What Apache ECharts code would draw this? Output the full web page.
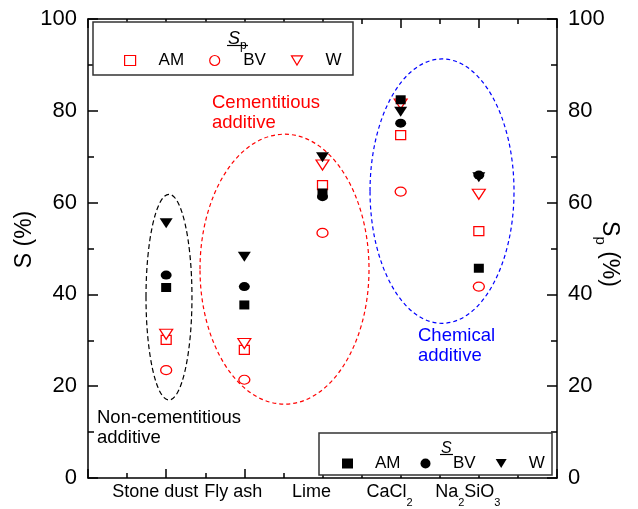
<!DOCTYPE html>
<html><head><meta charset="utf-8">
<script src="https://cdn.jsdelivr.net/npm/echarts@6/dist/echarts.min.js"></script>
<style>html,body{margin:0;padding:0;background:#fff}#c{width:638px;height:509px}</style>
</head><body><div id="c"></div>
<script>
// ---- data ----
const categories = ['{n|Stone dust}', '{n|Fly ash}', '{n|Lime}', '{n|CaCl}{s|2}', '{n|Na}{s|2}{n|SiO}{s|3}'];
const categoryPos = [1, 2, 3, 4, 5];
const yTickValues = [0, 20, 40, 60, 80, 100];
const sAM  = [41.5, 37.7, 62.1, 82.4, 45.7];
const sBV  = [44.2, 41.7, 61.3, 77.3, 66.0];
const sW   = [55.5, 48.2, 69.9, 79.8, 65.5];
const spAM = [30.1, 27.9, 63.8, 74.7, 53.8];
const spBV = [23.5, 21.4, 53.4, 62.4, 41.7];
const spW  = [31.3, 29.3, 68.2, 81.5, 61.8];
// annotation ellipses in data units: [cx, cy, rx, ry]
const ellipseNonCem = [1.036, 39.4, 0.294, 22.4];
const ellipseCem    = [2.514, 45.5, 1.081, 29.4];
const ellipseChem   = [4.529, 62.5, 0.921, 28.8];

const FONT = 'Liberation Sans, Arial, sans-serif';
const pairs = arr => arr.map((v, i) => [categoryPos[i], v]);
const TRI_DOWN = 'path://M0,0L12,0L6,10Z';

const chart = echarts.init(document.getElementById('c'), null, {renderer: 'canvas'});

const axisLineStyle = {color: '#000', width: 1.5};
function xAxisDef(pos, showLabel) {
  return {
    type: 'value', position: pos, min: 0, max: 6, interval: 1,
    axisLine: {show: true, onZero: false, lineStyle: axisLineStyle},
    axisTick: {show: true, inside: true, length: 9, lineStyle: axisLineStyle},
    minorTick: {show: true, splitNumber: 2, length: 5, lineStyle: axisLineStyle},
    splitLine: {show: false},
    axisLabel: {
      show: showLabel, color: '#000', fontFamily: FONT, fontSize: 18, margin: 5,
      padding: [0, 22, 0, 0],
      formatter: v => (v >= 1 && v <= 5) ? categories[v - 1] : '',
      rich: {
        n: {fontSize: 18, fontFamily: FONT, color: '#000', verticalAlign: 'top', lineHeight: 18},
        s: {fontSize: 11, fontFamily: FONT, color: '#000', verticalAlign: 'bottom', lineHeight: 25}
      }
    }
  };
}
function yAxisDef(pos, name, rot, gap, pad) {
  return {
    type: 'value', position: pos, min: 0, max: 100, interval: 20,
    axisLine: {show: true, onZero: false, lineStyle: axisLineStyle},
    axisTick: {show: true, inside: true, length: 10, lineStyle: axisLineStyle},
    minorTick: {show: true, splitNumber: 2, length: 6, lineStyle: axisLineStyle},
    splitLine: {show: false},
    axisLabel: {color: '#000', fontFamily: FONT, fontSize: 22, margin: 11,
      formatter: v => yTickValues.indexOf(v) >= 0 ? String(v) : ''},
    name: name, nameLocation: 'middle', nameRotate: rot, nameGap: gap, nameMoveOverlap: false,
    nameTextStyle: {color: '#000', fontFamily: FONT, fontSize: 23, padding: pad,
      rich: {
        m: {fontSize: 23, fontFamily: FONT, color: '#000', verticalAlign: 'top', lineHeight: 23},
        sub: {fontSize: 15, fontFamily: FONT, color: '#000', verticalAlign: 'bottom', lineHeight: 28}
      }}
  };
}

const red = '#ff0000';
function sc(name, data, symbol, size, filled, color) {
  return {
    name: name, type: 'scatter', data: pairs(data), symbol: symbol, symbolSize: size,
    itemStyle: filled ? {color: color, opacity: 1}
                      : {color: '#fff', borderColor: color, borderWidth: 1.2, opacity: 1},
    emphasis: {disabled: true}, z: 3
  };
}
function legItem(name, icon, filled, color) {
  return {name: name, icon: icon,
    itemStyle: filled ? {color: color, borderWidth: 0}
                      : {color: '#fff', borderColor: color, borderWidth: 1.2}};
}

const legendText = {fontSize: 17, fontFamily: FONT, color: '#000'};
chart.setOption({
  animation: false,
  backgroundColor: '#fff',
  grid: {left: 88, right: 81, top: 19, bottom: 31, containLabel: false, outerBoundsMode: 'none'},
  xAxis: [xAxisDef('bottom', true), xAxisDef('top', false)],
  yAxis: [yAxisDef('left', 'S (%)', 90, 52, [0, 0, 0, 18]),
          yAxisDef('right', '{m|S}{sub|p}{m| (%)}', -90, 36, [0, 0, 0, 11])],
  legend: [
    {data: [legItem('Sp AM', 'rect', false, red), legItem('Sp BV', 'circle', false, red), legItem('Sp W', TRI_DOWN, false, red)],
     left: 124, top: 52, padding: 0, itemWidth: 11, itemHeight: 10,
     itemGap: 25, selectedMode: false, z: 20, formatter: n => n.split(' ')[1],
     textStyle: Object.assign({padding: [0, 0, 0, 18]}, legendText)},
    {data: [legItem('S AM', 'rect', true, '#000'), legItem('S BV', 'circle', true, '#000'), legItem('S W', TRI_DOWN, true, '#000')],
     left: 342, top: 455, padding: 0, itemWidth: 11, itemHeight: 10,
     itemGap: 20, selectedMode: false, z: 20, formatter: n => n.split(' ')[1],
     textStyle: Object.assign({padding: [0, 0, 0, 17]}, legendText)}
  ],
  series: [
    sc('Sp AM', spAM, 'rect', [10, 9], false, red),
    sc('Sp BV', spBV, 'circle', [11, 9], false, red),
    sc('Sp W', spW, TRI_DOWN, [13, 10], false, red),
    sc('S AM', sAM, 'rect', [10, 9], true, '#000'),
    sc('S BV', sBV, 'circle', [11, 9], true, '#000'),
    sc('S W', sW, TRI_DOWN, [13, 10], true, '#000')
  ]
});

function ell(e, color, dash) {
  const c = chart.convertToPixel({gridIndex: 0}, [e[0], e[1]]);
  const o = chart.convertToPixel({gridIndex: 0}, [e[0] + e[2], e[1] + e[3]]);
  return {type: 'ellipse', z: 1, silent: true,
    shape: {cx: c[0], cy: c[1], rx: Math.abs(o[0] - c[0]), ry: Math.abs(c[1] - o[1])},
    style: {fill: 'none', stroke: color, lineWidth: 1.2, lineDash: dash}};
}
function txt(x, y, s, color) {
  return {type: 'text', x: x, y: y, z: 5, silent: true,
    style: {text: s, fill: color, font: '18.5px ' + FONT, lineHeight: 20, verticalAlign: 'top', align: 'left'}};
}
chart.setOption({
  graphic: [
    ell(ellipseNonCem, '#000', [5, 3]),
    ell(ellipseCem, red, [4, 3]),
    ell(ellipseChem, '#0000ff', [4, 3]),
    txt(212, 93, 'Cementitious\nadditive', red),
    txt(97, 408, 'Non-cementitious\nadditive', '#000'),
    txt(418, 326, 'Chemical\nadditive', '#0000ff'),
    // legend boxes
    {type: 'rect', z: 10, silent: true, shape: {x: 93, y: 22, width: 260, height: 53},
     style: {fill: '#fff', stroke: '#333', lineWidth: 1.5}},
    {type: 'rect', z: 10, silent: true, shape: {x: 319, y: 433, width: 233, height: 42},
     style: {fill: '#fff', stroke: '#333', lineWidth: 1.5}},
    {type: 'text', z: 21, silent: true, x: 228, y: 30,
     style: {text: '{s|S}{p|p}', rich: {
       s: {font: 'italic 18px ' + FONT, fill: '#000', verticalAlign: 'top', lineHeight: 18},
       p: {font: '12px ' + FONT, fill: '#000', verticalAlign: 'bottom', lineHeight: 22}}}},
    {type: 'line', z: 21, silent: true, shape: {x1: 227, y1: 45.5, x2: 248, y2: 45.5}, style: {stroke: '#000', lineWidth: 1.2}},
    {type: 'text', z: 21, silent: true, x: 441, y: 441,
     style: {text: 'S', font: 'italic 16px ' + FONT, fill: '#000'}},
    {type: 'line', z: 21, silent: true, shape: {x1: 440, y1: 454.5, x2: 453, y2: 454.5}, style: {stroke: '#000', lineWidth: 1.2}}
  ]
});
</script>
</body></html>
